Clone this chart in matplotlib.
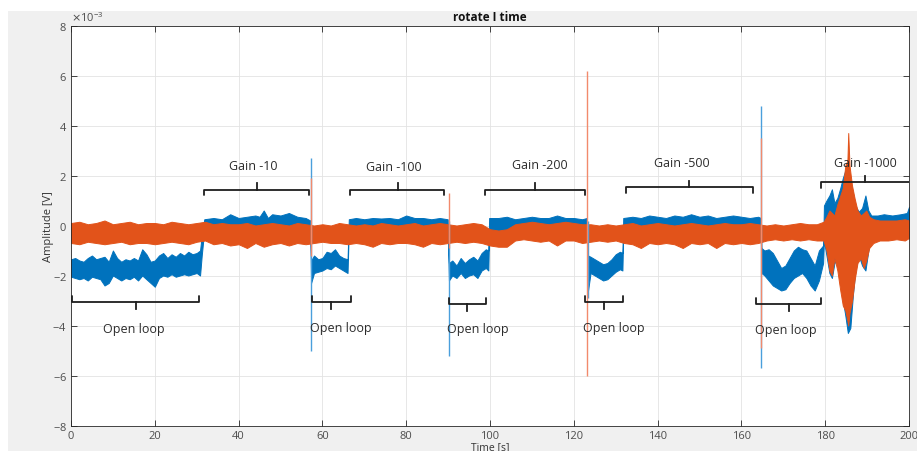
import matplotlib.pyplot as plt
import numpy as np
from matplotlib.patches import Rectangle
from matplotlib.ticker import ScalarFormatter

plt.rcParams['font.family'] = ['Open Sans', 'DejaVu Sans']
plt.rcParams['axes.unicode_minus'] = False

MV = 1e-3  # envelope values below are in mV

# channel 1 (blue): envelope of the trace, time [s], upper / lower [mV]
blue_t = [0, 1, 2, 3, 4, 5, 6, 7, 8, 9, 10, 11, 12, 13, 14, 15, 16, 17, 18, 19,
          20, 21, 22, 23, 24, 25, 26, 27, 28, 29, 30, 30.8, 31.2,
          31.8, 34, 36, 38, 40, 42, 44, 45, 46, 47, 48, 50, 52, 54, 56, 57.1,
          57.3, 58, 59, 60, 61, 62, 63, 64, 65, 66,
          66.3, 68, 70, 72, 74, 76, 78, 80, 82, 84, 86, 88, 89.9,
          90.2, 91, 92, 93, 94, 95, 96, 97, 98, 99, 99.6,
          99.8, 102, 104, 106, 108, 110, 112, 114, 116, 118, 120, 122, 123.1,
          123.4, 124, 125, 126, 127, 128, 129, 130, 131, 131.6,
          131.8, 134, 136, 138, 140, 142, 144, 146, 148, 150, 152, 154, 156, 158, 160, 162, 164, 164.6,
          164.8, 165.5, 166.5, 167.5, 168.5, 169.5, 170.5, 171.5, 172.5, 173.5, 174.5, 175.5, 176.5, 177.5, 178.5, 179.5,
          179.7, 180.3, 181, 181.6, 182.2, 182.9, 183.6, 184.2, 184.8, 185.4, 186, 186.6, 187.2, 188, 188.8, 189.6,
          190.3, 191, 192.5, 194, 196, 198, 199.5, 200]
blue_hi = [-1.35, -1.3, -1.4, -1.45, -1.3, -1.2, -1.35, -1.3, -1.25, -1.45, -1.0, -1.3, -1.45, -1.35, -1.4, -1.3, -1.4, -0.95, -1.15, -1.45,
           -1.4, -1.2, -1.1, -1.3, -1.15, -1.25, -1.1, -1.2, -1.05, -1.15, -1.1, -1.0, -0.4,
           0.25, 0.3, 0.25, 0.45, 0.3, 0.35, 0.4, 0.35, 0.6, 0.3, 0.45, 0.4, 0.5, 0.35, 0.3, 0.2,
           -1.4, -1.2, -1.35, -1.3, -1.05, -1.1, -0.95, -1.2, -1.3, -1.35,
           0.25, 0.3, 0.25, 0.3, 0.28, 0.3, 0.25, 0.4, 0.3, 0.3, 0.25, 0.3, 0.25,
           -1.5, -1.4, -1.6, -1.3, -1.5, -1.35, -1.25, -1.4, -1.1, -0.95, -1.0,
           0.3, 0.3, 0.35, 0.25, 0.3, 0.35, 0.3, 0.3, 0.4, 0.3, 0.3, 0.25, 0.3,
           -1.2, -1.25, -1.35, -1.45, -1.55, -1.5, -1.35, -1.15, -1.05, -1.1,
           0.3, 0.35, 0.3, 0.4, 0.35, 0.3, 0.4, 0.35, 0.45, 0.35, 0.4, 0.3, 0.35, 0.4, 0.35, 0.3, 0.35, 0.3,
           -0.9, -1.0, -0.95, -1.1, -1.4, -1.7, -1.6, -1.3, -1.0, -0.85, -0.95, -1.0, -1.3, -1.6, -1.0, -0.8,
           0.8, 1.0, 1.2, 1.45, 0.9, 1.1, 1.5, 1.9, 2.2, 2.2, 1.8, 1.3, 0.8, 0.55, 0.7, 1.2,
           0.6, 0.4, 0.4, 0.45, 0.4, 0.45, 0.5, 0.75]
blue_lo = [-2.05, -2.1, -2.15, -2.1, -2.2, -2.05, -2.1, -2.15, -2.4, -2.3, -2.0, -2.1, -2.2, -2.1, -2.15, -2.05, -2.2, -2.0, -2.15, -2.3,
           -2.45, -2.1, -2.0, -2.05, -1.95, -2.05, -2.0, -1.95, -2.0, -1.95, -1.9, -2.0, -1.2,
           -0.2, -0.25, -0.2, -0.25, -0.2, -0.25, -0.2, -0.25, -0.2, -0.25, -0.2, -0.25, -0.2, -0.25, -0.2, -0.25,
           -2.3, -1.9, -1.85, -1.8, -1.7, -1.75, -1.6, -1.7, -1.8, -1.9,
           -0.2, -0.25, -0.2, -0.25, -0.2, -0.25, -0.2, -0.25, -0.2, -0.25, -0.2, -0.25, -0.2,
           -2.2, -2.0, -2.1, -1.9, -2.1, -2.0, -1.95, -2.1, -1.8, -1.7, -1.8,
           -0.2, -0.25, -0.2, -0.25, -0.2, -0.25, -0.2, -0.25, -0.2, -0.25, -0.2, -0.25, -0.2,
           -2.6, -1.9, -2.0, -2.1, -2.2, -2.15, -2.0, -1.85, -1.75, -1.8,
           -0.25, -0.2, -0.25, -0.2, -0.25, -0.2, -0.25, -0.2, -0.25, -0.2, -0.25, -0.2, -0.25, -0.2, -0.25, -0.2, -0.25, -0.2,
           -1.9, -2.0, -2.2, -2.4, -2.5, -2.6, -2.55, -2.3, -2.1, -2.0, -1.9, -2.1, -2.4, -2.6, -2.2, -1.5,
           -0.6, -1.2, -1.9, -2.1, -1.5, -1.4, -2.2, -3.0, -3.6, -4.3, -4.1, -2.8, -1.8, -1.2, -1.6, -1.8,
           -1.0, -0.4, -0.3, -0.3, -0.3, -0.3, -0.3, -0.3]

# channel 2 (orange): envelope of the trace
orange_t = list(range(0, 180, 2)) + [
    179.6, 180.3, 181, 181.6, 182.2, 182.9, 183.6, 184.2, 184.8, 185.3, 185.5, 185.8,
    186.4, 187, 187.7, 188.5, 189.2, 189.8, 190.5, 191.5, 193, 195, 197, 199, 200]
orange_hi = [0.1, 0.15, 0.05, 0.1, 0.2, 0.05, 0.1, 0.15, 0.05, 0.1,
             0.1, 0.05, 0.15, 0.1, 0.05, 0.1, 0.15, 0.05, 0.1, 0.05,
             0.05, 0.1, 0.0, 0.05, 0.1, 0.05, 0.0, 0.1, 0.05, 0.0,
             0.05, 0.0, 0.1, 0.05, 0.0, 0.05, 0.0, 0.1, 0.05, 0.0,
             0.05, 0.1, 0.0, 0.05, 0.1, 0.05, 0.0, 0.05, 0.1, 0.05,
             -0.15, -0.2, -0.15, 0.05, 0.1, 0.15, 0.1, 0.05, 0.1, 0.15,
             0.1, 0.05, 0.05, 0.0, 0.05, 0.0, 0.05, 0.1, 0.0, 0.05,
             0.1, 0.05, 0.0, 0.05, 0.1, 0.05, 0.0, 0.05, 0.1, 0.05,
             0.05, 0.1, 0.05, 0.0, 0.05, 0.0, 0.05, 0.1, 0.05, 0.05,
             0.15, 0.35, 0.6, 0.5, 0.4, 0.85, 1.2, 1.5, 2.4, 2.6, 3.7, 2.4,
             1.6, 1.1, 0.6, 0.4, 0.5, 0.6, 0.35, 0.25, 0.2, 0.2, 0.2, 0.25, 0.2]
orange_lo = [-0.7, -0.75, -0.65, -0.7, -0.75, -0.7, -0.65, -0.75, -0.7, -0.7,
             -0.75, -0.7, -0.65, -0.7, -0.75, -0.65, -0.6, -0.75, -0.7, -0.8,
             -0.75, -0.9, -0.7, -0.85, -0.75, -0.7, -0.8, -0.7, -0.75, -0.7,
             -0.65, -0.7, -0.7, -0.75, -0.7, -0.75, -0.85, -0.7, -0.75, -0.7,
             -0.7, -0.75, -0.85, -0.7, -0.75, -0.7, -0.65, -0.7, -0.65, -0.7,
             -0.8, -0.85, -0.85, -0.6, -0.55, -0.6, -0.65, -0.6, -0.8, -0.6,
             -0.6, -0.7, -0.65, -0.6, -0.65, -0.6, -0.7, -0.75, -0.9, -0.7,
             -0.75, -0.7, -0.75, -0.9, -0.7, -0.75, -0.7, -0.9, -0.7, -0.75,
             -0.7, -0.75, -0.7, -0.6, -0.55, -0.6, -0.55, -0.6, -0.55, -0.6,
             -0.6, -1.0, -1.8, -2.0, -1.3, -1.8, -2.6, -3.2, -3.4, -3.8, -4.0, -3.5,
             -3.0, -2.2, -1.5, -1.3, -1.7, -1.4, -0.9, -0.7, -0.6, -0.6, -0.55, -0.6, -0.5]

# switching transients
blue_spike_t = [57.2, 90.1, 123.3, 164.6]
blue_spike_lo = [-5.0, -5.2, -2.9, -5.7]
blue_spike_hi = [2.7, 0.2, 0.2, 4.8]
orange_spike_t = [57.25, 90.15, 123.2, 164.65]
orange_spike_lo = [-1.2, -0.9, -6.0, -4.9]
orange_spike_hi = [1.9, 1.3, 6.2, 3.5]

# annotation brackets
gain_labels = ['Gain -10', 'Gain -100', 'Gain -200', 'Gain -500', 'Gain -1000']
gain_start = [31.7, 66.6, 98.9, 132.5, 179.1]
gain_end = [56.7, 89.1, 122.7, 162.8, 200.2]
gain_mid = [44.3, 78.0, 110.8, 147.6, 189.6]
gain_y = [1.43, 1.43, 1.43, 1.53, 1.73]
gain_text_x = [43.5, 77.0, 112.0, 145.8, 189.6]
gain_text_y = [2.4, 2.35, 2.43, 2.53, 2.53]

ol_start = [0.2, 57.4, 90.1, 122.7, 163.5]
ol_end = [30.5, 66.8, 99.1, 131.8, 179.0]
ol_mid = [15.4, 62.1, 94.6, 127.3, 171.3]
ol_y = [-3.05, -3.05, -3.14, -3.05, -3.14]
ol_text_x = [15.1, 64.5, 97.1, 129.6, 170.7]
ol_text_y = [-4.11, -4.09, -4.14, -4.07, -4.17]

BLUE = '#0072BD'
ORANGE = '#E2531A'
INK = '#262626'

fig = plt.figure(figsize=(9.17, 4.52), dpi=100, facecolor='white')
fig.patches.append(Rectangle((8 / 917, 0), 1, 440 / 452, transform=fig.transFigure,
                             facecolor='#f0f0f0', edgecolor='none', zorder=-10))
ax = fig.add_axes([71 / 917, 25.5 / 452, 838 / 917, 400 / 452])
ax.set_facecolor('white')


def envelope(t, lo, hi, color):
    t = np.asarray(t)
    lo = np.asarray(lo) * MV
    hi = np.asarray(hi) * MV
    ax.fill_between(t, lo, hi, color=color, lw=0.7, zorder=2)


envelope(blue_t, blue_lo, blue_hi, BLUE)
ax.vlines(blue_spike_t, np.array(blue_spike_lo) * MV, np.array(blue_spike_hi) * MV,
          color='#4a9fdc', lw=1.0, zorder=3)
envelope(orange_t, orange_lo, orange_hi, ORANGE)
ax.vlines(orange_spike_t, np.array(orange_spike_lo) * MV, np.array(orange_spike_hi) * MV,
          color='#f28a6c', lw=1.0, zorder=4)


def bracket(x0, x1, xm, y, hook, tip):
    xs = [x0, x0, x1, x1]
    ys = [y + hook, y, y, y + hook]
    ax.plot(xs, np.array(ys) * MV, color='#1e1e1e', lw=1.3, zorder=5,
            solid_joinstyle='round', solid_capstyle='round')
    ax.plot([xm, xm], np.array([y, y + tip]) * MV, color='#1e1e1e', lw=1.3, zorder=5)


for i in range(len(gain_labels)):
    bracket(gain_start[i], gain_end[i], gain_mid[i], gain_y[i], -0.22, 0.27)
    ax.text(gain_text_x[i], gain_text_y[i] * MV, gain_labels[i], ha='center', va='center',
            fontsize=9, color='#2b2b2b', zorder=6)

for i in range(len(ol_start)):
    bracket(ol_start[i], ol_end[i], ol_mid[i], ol_y[i], 0.24, -0.27)
    ax.text(ol_text_x[i], ol_text_y[i] * MV, 'Open loop', ha='center', va='center',
            fontsize=9, color='#2b2b2b', zorder=6)

ax.set_xlim(0, 200)
ax.set_ylim(-8 * MV, 8 * MV)
ax.set_xticks(np.arange(0, 201, 20))
ax.set_yticks(np.arange(-8, 9, 2) * MV)
fmt = ScalarFormatter(useMathText=True)
fmt.set_powerlimits((-3, -3))
ax.yaxis.set_major_formatter(fmt)
ax.yaxis.get_offset_text().set_fontsize(8)
ax.yaxis.get_offset_text().set_color('#4d4d4d')

ax.grid(True, color='#e3e3e3', lw=0.6)
ax.set_axisbelow(True)
ax.tick_params(direction='in', top=True, right=True, length=4, width=0.6,
               color=INK, labelcolor='#4d4d4d', labelsize=8, pad=3)
for s in ax.spines.values():
    s.set_color(INK)
    s.set_linewidth(0.6)

ax.set_title('rotate I time', fontsize=8.5, fontweight='bold', pad=4, color='#111111')
ax.set_xlabel('Time [s]', fontsize=7.5, color='#333333', labelpad=0)
ax.set_ylabel('Amplitude [V]', fontsize=8, color='#333333', labelpad=-1)

fig.savefig('out.png', dpi=100, facecolor=fig.get_facecolor())
